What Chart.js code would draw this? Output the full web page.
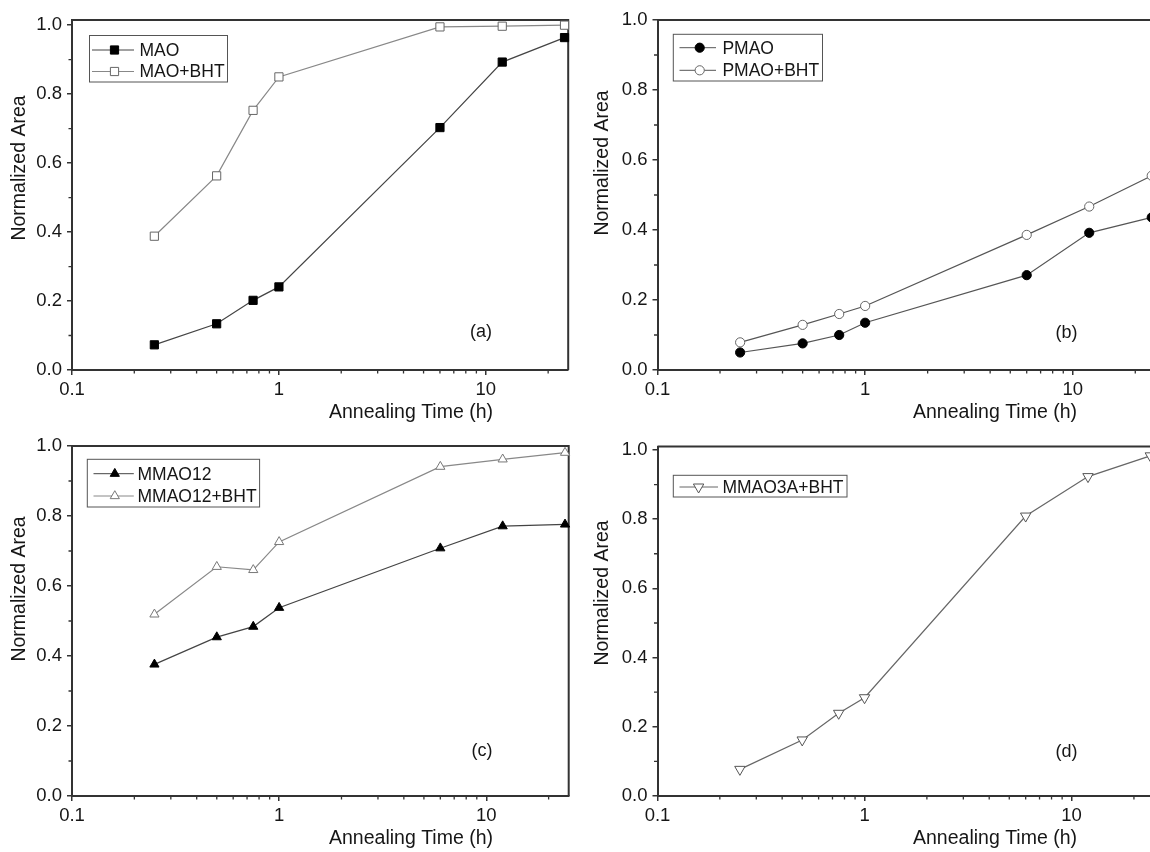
<!DOCTYPE html>
<html>
<head>
<meta charset="utf-8">
<script src="https://cdn.jsdelivr.net/npm/chart.js@4.4.0/dist/chart.umd.min.js"></script>
<style>
html, body { margin: 0; padding: 0; background: #fff; overflow: hidden; width: 1150px; height: 852px; }
canvas { position: absolute; }
</style>
</head>
<body>
<canvas id="pa" width="575" height="426" style="left:0;top:0"></canvas>
<canvas id="pb" width="586" height="426" style="left:575px;top:0"></canvas>
<canvas id="pc" width="575" height="426" style="left:0;top:426px"></canvas>
<canvas id="pd" width="586" height="426" style="left:575px;top:426px"></canvas>
<script>
// annealing times (h), same for every series
const hours = [0.25, 0.5, 0.75, 1, 6, 12, 24];

const mao       = [0.073, 0.134, 0.202, 0.241, 0.703, 0.893, 0.964];
const maoBht    = [0.388, 0.563, 0.753, 0.850, 0.995, 0.997, 1.000];
const pmao      = [0.050, 0.076, 0.100, 0.135, 0.271, 0.392, 0.436];
const pmaoBht   = [0.079, 0.129, 0.160, 0.183, 0.386, 0.467, 0.555];
const mmao12    = [0.376, 0.454, 0.484, 0.538, 0.708, 0.771, 0.776];
const mmao12Bht = [0.519, 0.655, 0.646, 0.726, 0.941, 0.962, 0.981];
const mmao3aBht = [0.077, 0.162, 0.239, 0.284, 0.809, 0.923, 0.983];

const xTicks = [0.1, 1, 10];
const xMinorTicks = [0.2, 0.3, 0.4, 0.5, 0.6, 0.7, 0.8, 0.9, 2, 3, 4, 5, 6, 7, 8, 9, 20];
const yTicks = [0, 0.2, 0.4, 0.6, 0.8, 1.0];
const yMinorTicks = [0.1, 0.3, 0.5, 0.7, 0.9];

const FONT = '"Liberation Sans", Arial, sans-serif';
const INK = '#161616';

function pts(vals) {
    return hours.map((h, i) => ({ x: h, y: vals[i] }));
}

const decor = {
    id: 'decor',
    beforeDatasetsDraw(chart) {
        const { ctx, chartArea: a, scales: { x, y } } = chart;
        ctx.save();
        ctx.strokeStyle = '#333';
        ctx.lineWidth = 2;
        ctx.beginPath();
        ctx.moveTo(a.left, a.top);
        ctx.lineTo(a.right, a.top);
        ctx.lineTo(a.right, a.bottom);
        ctx.stroke();
        // minor ticks, outward
        ctx.lineWidth = 1.3;
        ctx.beginPath();
        xMinorTicks.forEach(v => {
            if (v > x.max) return;
            const px = x.getPixelForValue(v);
            ctx.moveTo(px, a.bottom);
            ctx.lineTo(px, a.bottom + 3.5);
        });
        yMinorTicks.forEach(v => {
            const py = y.getPixelForValue(v);
            ctx.moveTo(a.left, py);
            ctx.lineTo(a.left - 3.5, py);
        });
        ctx.stroke();
        ctx.restore();
    },
    afterDraw(chart, args, o) {
        const ctx = chart.ctx;
        ctx.save();
        // legend
        const lg = o.legend;
        ctx.strokeStyle = '#555';
        ctx.lineWidth = 1;
        ctx.strokeRect(lg.box[0], lg.box[1], lg.box[2], lg.box[3]);
        chart.data.datasets.forEach((ds, i) => {
            const ry = lg.rows[i];
            ctx.strokeStyle = ds.borderColor;
            ctx.lineWidth = 1;
            ctx.beginPath();
            ctx.moveTo(lg.line[0], ry);
            ctx.lineTo(lg.line[1], ry);
            ctx.stroke();
            ctx.fillStyle = ds.pointBackgroundColor;
            ctx.strokeStyle = ds.pointBorderColor;
            Chart.helpers.drawPoint(ctx, {
                pointStyle: ds.pointStyle,
                rotation: ds.pointRotation || 0,
                radius: ds.pointRadius,
                borderWidth: 1
            }, lg.marker, ry);
            ctx.fillStyle = INK;
            ctx.font = '17.5px ' + FONT;
            ctx.textAlign = 'left';
            ctx.textBaseline = 'middle';
            ctx.fillText(ds.label, lg.text, ry + 1);
        });
        // panel tag
        ctx.fillStyle = INK;
        ctx.font = '18px ' + FONT;
        ctx.textAlign = 'center';
        ctx.textBaseline = 'middle';
        ctx.fillText(o.tag.text, o.tag.x, o.tag.y);
        // axis titles
        ctx.font = '19.5px ' + FONT;
        ctx.fillText('Annealing Time (h)', o.xTitle[0], o.xTitle[1]);
        ctx.translate(o.yTitle[0], o.yTitle[1]);
        ctx.rotate(-Math.PI / 2);
        ctx.fillText('Normalized Area', 0, 0);
        ctx.restore();
    }
};

function panel(id, p) {
    new Chart(document.getElementById(id), {
        type: 'scatter',
        data: {
            datasets: p.series.map(s => ({
                label: s.label,
                data: pts(s.values),
                showLine: true,
                borderColor: s.line,
                borderWidth: 1.2,
                pointStyle: s.style,
                pointRotation: s.rotation || 0,
                pointRadius: s.radius,
                pointBackgroundColor: s.fill,
                pointBorderColor: s.edge,
                pointBorderWidth: 1,
                clip: false
            }))
        },
        options: {
            responsive: false,
            animation: false,
            devicePixelRatio: 1,
            layout: { padding: { left: 0, right: p.padRight, top: p.padTop, bottom: 0 } },
            scales: {
                x: {
                    type: 'logarithmic',
                    min: 0.1,
                    max: 25,
                    afterFit: s => { s.height = 56; },
                    afterBuildTicks: s => { s.ticks = xTicks.map(v => ({ value: v, major: true })); },
                    ticks: {
                        callback: v => String(v),
                        font: { family: FONT, size: 18.5 },
                        color: INK,
                        padding: 4,
                        maxRotation: 0,
                        autoSkip: false
                    },
                    grid: { drawOnChartArea: false, drawTicks: true, tickLength: 5, color: '#333', lineWidth: 1.5 },
                    border: { display: true, color: '#333', width: 2 }
                },
                y: {
                    min: 0,
                    max: p.yMax,
                    afterFit: s => { s.width = p.yAxisW; },
                    afterBuildTicks: s => { s.ticks = yTicks.map(v => ({ value: v })); },
                    ticks: {
                        callback: v => v.toFixed(1),
                        font: { family: FONT, size: 18.5 },
                        color: INK,
                        padding: 5
                    },
                    grid: { drawOnChartArea: false, drawTicks: true, tickLength: 5, color: '#333', lineWidth: 1.5 },
                    border: { display: true, color: '#333', width: 2 }
                }
            },
            plugins: {
                legend: { display: false },
                tooltip: { enabled: false },
                decor: p.decor
            }
        },
        plugins: [decor]
    });
}

panel('pa', {
    yMax: 1.015, yAxisW: 72, padTop: 20, padRight: 2.5,
    series: [
        { label: 'MAO', values: mao, style: 'rect', radius: 5.8, fill: '#000', edge: '#000', line: '#444' },
        { label: 'MAO+BHT', values: maoBht, style: 'rect', radius: 5.8, fill: '#fff', edge: '#666', line: '#888' }
    ],
    decor: {
        legend: { box: [89.5, 35.5, 138, 46.5], rows: [50, 71.5], line: [92, 134], marker: 114.5, text: 139.5 },
        tag: { text: '(a)', x: 481, y: 332 },
        xTitle: [411, 413], yTitle: [19.5, 168]
    }
});

panel('pb', {
    yMax: 1.0, yAxisW: 82.5, padTop: 20, padRight: 3,
    series: [
        { label: 'PMAO', values: pmao, style: 'circle', radius: 4.6, fill: '#000', edge: '#000', line: '#555' },
        { label: 'PMAO+BHT', values: pmaoBht, style: 'circle', radius: 4.6, fill: '#fff', edge: '#666', line: '#555' }
    ],
    decor: {
        legend: { box: [98.3, 34.3, 149.2, 46.7], rows: [47.7, 70.3], line: [104.5, 141], marker: 124.7, text: 147.4 },
        tag: { text: '(b)', x: 491.4, y: 333 },
        xTitle: [420, 413], yTitle: [27.5, 163]
    }
});

panel('pc', {
    yMax: 1.0, yAxisW: 72, padTop: 20, padRight: 2.5,
    series: [
        { label: 'MMAO12', values: mmao12, style: 'triangle', radius: 5.3, fill: '#000', edge: '#000', line: '#444' },
        { label: 'MMAO12+BHT', values: mmao12Bht, style: 'triangle', radius: 5.3, fill: '#fff', edge: '#777', line: '#888' }
    ],
    decor: {
        legend: { box: [87.3, 33.3, 172.3, 47.7], rows: [47.7, 70], line: [93.5, 133.8], marker: 114.8, text: 137.5 },
        tag: { text: '(c)', x: 482, y: 325 },
        xTitle: [411, 413], yTitle: [20, 163]
    }
});

panel('pd', {
    yMax: 1.01, yAxisW: 82.5, padTop: 20.5, padRight: 3,
    series: [
        { label: 'MMAO3A+BHT', values: mmao3aBht, style: 'triangle', rotation: 180, radius: 6, fill: '#fff', edge: '#555', line: '#666' }
    ],
    decor: {
        legend: { box: [98.3, 49.3, 173.7, 21.7], rows: [61], line: [104.5, 143], marker: 123.6, text: 147.4 },
        tag: { text: '(d)', x: 491.4, y: 326 },
        xTitle: [420, 413], yTitle: [27.5, 167]
    }
});
</script>
</body>
</html>
